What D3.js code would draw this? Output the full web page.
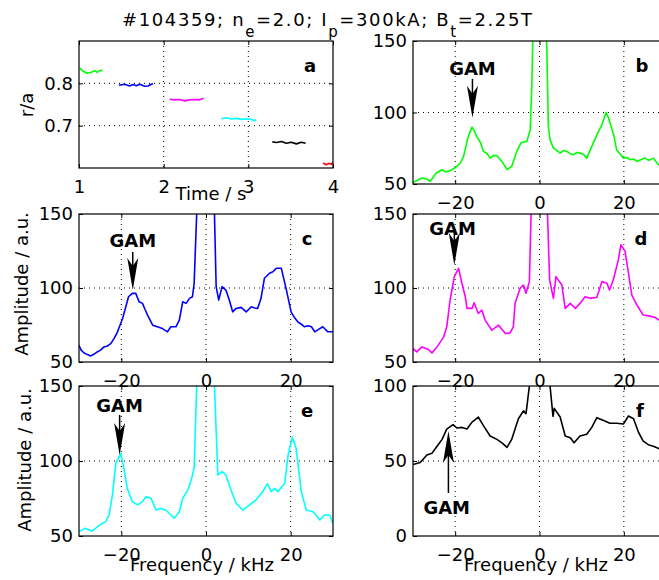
<!DOCTYPE html>
<html>
<head>
<meta charset="utf-8">
<title>GAM spectra #104359</title>
<script src="https://cdn.jsdelivr.net/npm/d3@7"></script>
<style>
  html,body{margin:0;background:#fff;}
  svg{display:block;font-family:"DejaVu Sans",sans-serif;}
</style>
</head>
<body>
<div id="chart"></div>
<script>
// ---- data: panel a, r/a vs time (one segment per channel) ----
const segGreen   = [[1.008,0.836],[1.047,0.829],[1.094,0.824],[1.146,0.826],[1.185,0.830],[1.213,0.826],[1.244,0.830],[1.276,0.8305]];
const segBlue    = [[1.472,0.7953],[1.539,0.7977],[1.598,0.7938],[1.638,0.797],[1.677,0.7945],[1.717,0.7977],[1.776,0.793],[1.815,0.7938],[1.854,0.7977],[1.874,0.7992]];
const segMagenta = [[2.071,0.7625],[2.13,0.761],[2.189,0.7617],[2.248,0.7586],[2.307,0.761],[2.366,0.7617],[2.425,0.761],[2.472,0.7648]];
const segCyan    = [[2.681,0.7164],[2.74,0.7188],[2.799,0.7156],[2.858,0.7172],[2.917,0.7148],[2.976,0.7164],[3.035,0.7148],[3.075,0.7117],[3.094,0.714]];
const segBlack   = [[3.283,0.6617],[3.331,0.6602],[3.39,0.6625],[3.449,0.6586],[3.508,0.6609],[3.567,0.657],[3.626,0.6609],[3.677,0.6586]];
const segRed     = [[3.882,0.6117],[3.921,0.6078],[3.953,0.611],[3.98,0.6086],[4.0,0.6133]];

// ---- data: spectra [frequency kHz, amplitude a.u.] ----
const specB = [[-30,51.2],[-29,52.5],[-27.9,54.2],[-26.8,53.5],[-25.9,51.9],[-24.5,57.7],[-23.1,60],[-22.3,58.5],[-21.6,58.8],[-20.5,60.5],[-19.6,62.3],[-18.8,64.5],[-18,69.3],[-17.1,81],[-16.4,87],[-16,89.8],[-15.5,87.5],[-14.9,83.3],[-14,79],[-13.3,72.8],[-12.5,71.5],[-11.7,68.1],[-10.9,70],[-10.1,69.8],[-8.9,65.8],[-7.7,60],[-6.6,62.3],[-5.4,72.8],[-4.4,78.6],[-3.6,79.5],[-3,79.8],[-2.2,87.9],[-1.8,120.5],[-1.6,150],[-1.2,200],[0,260],[1.3,200],[1.7,150],[2.1,90.2],[2.5,81],[3.3,75.1],[4.1,73.5],[4.9,71.6],[5.7,73.5],[6.5,72.8],[7.3,71.2],[8.1,70.5],[8.9,72],[9.6,71.6],[10.4,70.8],[11.2,68.1],[12.4,76.3],[13.6,84.4],[14.8,91.4],[15.8,100.2],[16.4,96],[17.1,89.1],[17.7,83],[18.3,73.9],[19.1,71],[19.9,68.1],[20.7,68.5],[21.5,67],[22.3,67.5],[23.1,65.8],[24,67],[25,68.1],[26,66.5],[27,68.1],[28.2,63.5],[29,62.5],[30,62]];
const specC = [[-30,61.3],[-29.5,58],[-28.8,56.1],[-28,55],[-27.3,54.1],[-26.5,55.2],[-25.7,56.8],[-24.9,58],[-24.1,60.2],[-23.3,60.8],[-22.5,62.4],[-21.7,66],[-20.9,70.4],[-19.7,79.4],[-18.3,94.1],[-17.4,96.4],[-16.6,96.4],[-15.8,90.7],[-15,89.6],[-14.4,85.5],[-13.8,81.7],[-12.6,74.9],[-11.5,73.8],[-10.3,72.6],[-9.1,70.4],[-8.3,73.8],[-7.1,73.8],[-6.3,78.3],[-5.5,90.7],[-4.7,89.6],[-3.9,93],[-3.2,94.1],[-2.8,103.2],[-2.2,150],[-1.5,210],[0,260],[1.5,210],[2,150],[2.4,100.9],[3,91.9],[3.8,100.9],[4.7,98.6],[5.5,91.9],[6.3,83.9],[7.1,86.2],[8.3,86.9],[9.5,83.9],[10.7,87.3],[11.5,86.5],[12.2,86.2],[13,93],[13.8,106.6],[15,110],[15.8,111],[16.6,113.3],[17.8,113.3],[19,98.6],[20.1,83.9],[20.9,80],[21.7,77.1],[22.5,75.5],[23.3,73.8],[24.1,74.5],[24.9,73.8],[25.7,70.4],[26.6,72],[27.6,73.8],[28.2,72],[28.8,70.4],[30,70.4]];
const specD = [[-30,59],[-29.1,56.8],[-27.9,60.2],[-26.3,58.4],[-25.5,56.1],[-24.3,60.2],[-22.7,67],[-22,73.8],[-21.2,91.9],[-20.2,107.7],[-19.2,113.3],[-18.4,103.2],[-17.6,94.1],[-17.2,86.2],[-16,86.2],[-15.5,90],[-14.5,82.8],[-13.7,85.1],[-12.9,78.3],[-11.3,71.5],[-9.7,74.9],[-8.1,69.2],[-7,69.7],[-6.2,73.8],[-5.8,89.6],[-4.6,99.8],[-3.8,102],[-3.2,96.4],[-2.4,104.3],[-2,150],[-1.4,210],[0,260],[1.4,210],[1.9,150],[2.4,105.4],[3.3,93],[3.9,107.7],[5.3,102],[6.1,86.2],[7.3,89.6],[8.5,86.2],[9.6,89.6],[10.8,94.1],[12,93],[13.6,93.7],[14.8,104.3],[16,103.2],[16.6,98.6],[17.5,105.4],[18.7,119],[19.3,129.2],[20.3,124.7],[21.1,110],[21.9,95.2],[23.1,88.5],[24.6,81.7],[26.2,81],[27.4,80.1],[28.4,78.3],[30,77]];
const specE = [[-30,52.9],[-28.6,55.1],[-26.9,53.3],[-25.3,56.9],[-23.7,59.6],[-22.9,64],[-22.1,77.3],[-21.3,98.4],[-20.1,105.1],[-19.4,95.1],[-18.6,81.8],[-17.4,72.9],[-16.2,70.7],[-15,72.9],[-14.2,76.2],[-13,75.1],[-11.8,67.3],[-10.7,68.4],[-9.5,67.3],[-8.3,64],[-7.5,61.8],[-6.3,66.2],[-5.5,75.1],[-4.3,80.7],[-3.6,86.2],[-2.8,95.1],[-2.2,150],[-1.5,210],[0,260],[1.5,210],[2,150],[2.8,90.7],[3.8,92.9],[4.7,90.7],[5.9,80.7],[7.1,71.8],[8.7,67.3],[10.3,70.7],[11.8,74],[13.4,79.6],[14.5,84.7],[15.4,79.6],[16.2,81.8],[17,79.6],[18.6,85.1],[19.4,104],[20.4,115.8],[21.3,108.4],[22.5,79.6],[23.7,67.3],[25.3,66.2],[26.9,60.7],[28,64],[29.2,64],[30,58.4]];
const specF = [[-30,47.6],[-28.3,49],[-26.7,54],[-25.5,55.2],[-24.3,59.8],[-23.1,64.4],[-22,71.3],[-20.5,74.3],[-19.6,72],[-18.4,72.4],[-17.2,71.3],[-16,75.9],[-14.5,79.3],[-13.3,73.6],[-11.7,66.7],[-10.1,64.4],[-8.9,62.1],[-7.7,59.1],[-6.6,64.4],[-5.8,71.3],[-5,78.2],[-3.8,83.4],[-3.2,81.6],[-2.8,90.8],[-2.4,100],[-1.6,150],[0,200],[1.8,150],[2.5,100],[3.2,79.8],[3.5,85.1],[4.9,79.3],[6.1,66.7],[7.3,65.5],[8.2,62.1],[9.6,66.7],[11.2,67.8],[12.4,72.4],[13.6,78.9],[15.2,77],[16.7,75.2],[18.3,75.2],[19.9,74.7],[21.1,80],[22.3,78.2],[23.5,69],[24.6,63.2],[25.8,60.9],[27,59.8],[28.4,58.2],[30,57]];

// ---- tick values ----
const timeTicks = [1, 2, 3, 4];
const raTicks = [0.7, 0.8];
const freqTicks = [-20, 0, 20];
const ampTicks = [50, 100, 150];
const ampTicksF = [0, 50, 100];

const W = 659, H = 580;
const svg = d3.select("#chart").append("svg")
  .attr("width", W).attr("height", H)
  .attr("font-size", 18);

// title
const title = svg.append("text")
  .attr("x", 122).attr("y", 26)
  .attr("textLength", 410).attr("lengthAdjust", "spacing");
const parts = [["#104359; n", 0], ["e", 1], ["=2.0; I", 0], ["p", 1], ["=300kA; B", 0], ["t", 1], ["=2.25T", 0]];
parts.forEach(([s, sub], i) => {
  const prevSub = i > 0 && parts[i - 1][1];
  title.append("tspan")
    .attr("dy", sub ? 11 : (prevSub ? -11 : 0))
    .attr("font-size", sub ? 15 : 18)
    .text(s);
});

let clipId = 0;
function panel(o) {
  const x = d3.scaleLinear().domain(o.xDom).range([o.x0, o.x1]);
  const y = d3.scaleLinear().domain(o.yDom).range([o.y1, o.y0]);
  const g = svg.append("g");
  const id = "clip" + (clipId++);
  g.append("clipPath").attr("id", id).append("rect")
    .attr("x", o.x0).attr("y", o.y0).attr("width", o.x1 - o.x0).attr("height", o.y1 - o.y0);

  // dotted grid
  const grid = g.append("g").attr("stroke", "#000").attr("stroke-width", 1).attr("stroke-dasharray", "1,4");
  grid.selectAll(".gx").data(o.xTicks.filter(v => v > o.xDom[0] && v < o.xDom[1])).enter().append("line")
    .attr("x1", d => x(d)).attr("x2", d => x(d)).attr("y1", o.y0).attr("y2", o.y1);
  grid.selectAll(".gy").data(o.yTicks.filter(v => v > o.yDom[0] && v < o.yDom[1])).enter().append("line")
    .attr("y1", d => y(d)).attr("y2", d => y(d)).attr("x1", o.x0).attr("x2", o.x1);

  // curves
  const line = d3.line().x(d => x(d[0])).y(d => y(d[1]));
  const cg = g.append("g").attr("clip-path", `url(#${id})`);
  o.series.forEach(s => {
    cg.append("path").datum(s.data).attr("d", line)
      .attr("fill", "none").attr("stroke", s.color).attr("stroke-width", 1.6)
      .attr("stroke-linejoin", "round");
  });

  // axes, ticks pointing inward
  const fmt = o.fmt;
  const style = a => {
    a.select(".domain").remove();
    a.attr("font-size", 18).attr("font-family", "DejaVu Sans");
    a.selectAll("line").attr("stroke-width", 1);
  };
  if (o.xLabels !== false) {
    g.append("g").attr("transform", `translate(0,${o.y1})`)
      .call(d3.axisBottom(x).tickValues(o.xTicks).tickSize(-4).tickPadding(12).tickFormat(fmt.x)).call(style);
  }
  g.append("g").attr("transform", `translate(0,${o.y0})`)
    .call(d3.axisTop(x).tickValues(o.xTicks).tickSize(-4).tickFormat("")).call(style);
  g.append("g").attr("transform", `translate(${o.x0},0)`)
    .call(d3.axisLeft(y).tickValues(o.yTicks).tickSize(-4).tickPadding(6).tickFormat(fmt.y)).call(style);
  g.append("g").attr("transform", `translate(${o.x1},0)`)
    .call(d3.axisRight(y).tickValues(o.yTicks).tickSize(-4).tickFormat("")).call(style);

  g.append("rect").attr("x", o.x0).attr("y", o.y0)
    .attr("width", o.x1 - o.x0).attr("height", o.y1 - o.y0)
    .attr("fill", "none").attr("stroke", "#000").attr("stroke-width", 1.2);

  // panel letter
  g.append("text").attr("x", o.x1 - o.letterDx).attr("y", o.y0 + 31)
    .attr("text-anchor", "middle").attr("font-weight", "bold").text(o.letter);

  // GAM annotation
  if (o.gam) {
    const a = o.gam, ax = x(a.f), ys = y(a.from), yt = y(a.tip);
    const dir = yt > ys ? 1 : -1;
    const head = Math.min(32, Math.abs(yt - ys));
    g.append("line").attr("x1", ax).attr("x2", ax).attr("y1", ys).attr("y2", yt - dir * 10)
      .attr("stroke", "#000").attr("stroke-width", 1.5);
    g.append("path")
      .attr("d", `M${ax},${yt} L${ax - 5.5},${yt - dir * head} L${ax},${yt - dir * (head - 8)} L${ax + 5.5},${yt - dir * head} Z`)
      .attr("fill", "#000");
    g.append("text").attr("x", x(a.textF)).attr("y", y(a.textV))
      .attr("text-anchor", "middle").attr("font-weight", "bold").text("GAM");
  }
  return { x, y };
}

const fmtTime = { x: d3.format("d"), y: d3.format(".1f") };
const fmtFreq = { x: d3.format("d"), y: d3.format("d") };
const leftX = [79, 333], rightX = [413, 666];

panel({ x0: leftX[0], x1: leftX[1], y0: 41, y1: 168, xDom: [1, 4], yDom: [0.6, 0.9],
  xTicks: timeTicks, yTicks: raTicks, fmt: fmtTime, letter: "a", letterDx: 23,
  series: [
    { data: segGreen, color: "#00ff00" }, { data: segBlue, color: "#0000ff" },
    { data: segMagenta, color: "#ff00ff" }, { data: segCyan, color: "#00ffff" },
    { data: segBlack, color: "#000000" }, { data: segRed, color: "#ff0000" }] });

panel({ x0: rightX[0], x1: rightX[1], y0: 41, y1: 184, xDom: [-30, 30], yDom: [50, 150],
  xTicks: freqTicks, yTicks: ampTicks, fmt: fmtFreq, letter: "b", letterDx: 24,
  series: [{ data: specB, color: "#00ff00" }],
  gam: { f: -15.9, from: 123.5, tip: 96.3, textF: -15.9, textV: 126.3 } });

panel({ x0: leftX[0], x1: leftX[1], y0: 214, y1: 362, xDom: [-30, 30], yDom: [50, 150],
  xTicks: freqTicks, yTicks: ampTicks, fmt: fmtFreq, letter: "c", letterDx: 26,
  series: [{ data: specC, color: "#0000ff" }],
  gam: { f: -17.3, from: 124.3, tip: 98.6, textF: -17.3, textV: 127.7 } });

panel({ x0: rightX[0], x1: rightX[1], y0: 214, y1: 362, xDom: [-30, 30], yDom: [50, 150],
  xTicks: freqTicks, yTicks: ampTicks, fmt: fmtFreq, letter: "d", letterDx: 25,
  series: [{ data: specD, color: "#ff00ff" }],
  gam: { f: -20.2, from: 139.2, tip: 115.5, textF: -20.6, textV: 135.8 } });

panel({ x0: leftX[0], x1: leftX[1], y0: 386, y1: 536, xDom: [-30, 30], yDom: [50, 150],
  xTicks: freqTicks, yTicks: ampTicks, fmt: fmtFreq, letter: "e", letterDx: 26,
  series: [{ data: specE, color: "#00ffff" }],
  gam: { f: -20.4, from: 130.7, tip: 104, textF: -20.4, textV: 132.7 } });

panel({ x0: rightX[0], x1: rightX[1], y0: 386, y1: 536, xDom: [-30, 30], yDom: [0, 100],
  xTicks: freqTicks, yTicks: ampTicksF, fmt: fmtFreq, letter: "f", letterDx: 26,
  series: [{ data: specF, color: "#000000" }],
  gam: { f: -21.6, from: 28.7, tip: 70, textF: -22, textV: 14.7 } });

// axis labels
svg.append("text").attr("x", 211).attr("y", 200).attr("text-anchor", "middle").text("Time / s");
svg.append("text").attr("transform", "translate(33,105) rotate(-90)").attr("text-anchor", "middle").text("r/a");
svg.append("text").attr("transform", "translate(28,284) rotate(-90)").attr("text-anchor", "middle").text("Amplitude / a.u.");
svg.append("text").attr("transform", "translate(31,460) rotate(-90)").attr("text-anchor", "middle").text("Amplitude / a.u.");
svg.append("text").attr("x", 202).attr("y", 571).attr("text-anchor", "middle").text("Frequency / kHz");
svg.append("text").attr("x", 536).attr("y", 571).attr("text-anchor", "middle").text("Frequency / kHz");
</script>
</body>
</html>
